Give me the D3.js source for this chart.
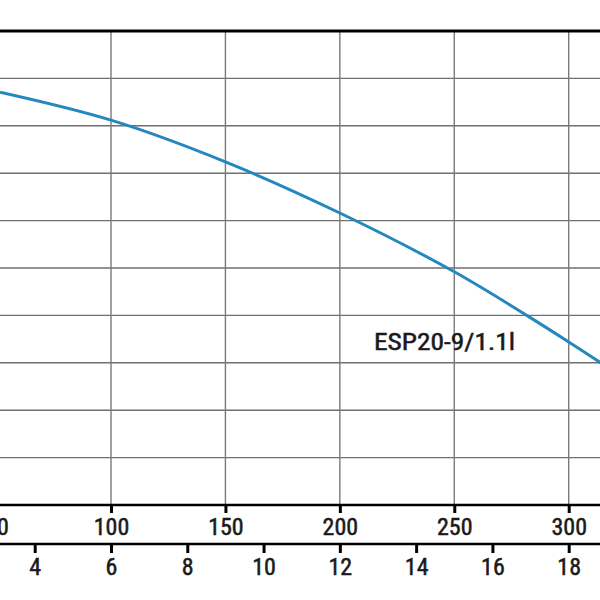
<!DOCTYPE html>
<html>
<head>
<meta charset="utf-8">
<script src="https://cdn.jsdelivr.net/npm/d3@7"></script>
<style>
  html, body { margin: 0; padding: 0; background: #fff; }
  svg { display: block; }
  text { font-family: "Liberation Sans Narrow", "Arial Narrow", "Roboto Condensed", "Liberation Sans", sans-serif; fill: #1a1a1a; stroke: #1a1a1a; stroke-width: 0.5px; }
</style>
</head>
<body>
<svg id="chart" width="600" height="600"></svg>
<script>
// Flow (l/min) vs head (m) for the pump curve
const flowLmin = [51.5, 100, 150, 200, 250, 282, 300, 314];
const headM    = [8.71, 8.12, 7.24, 6.16, 4.92, 3.99, 3.44, 3.00];
const flowTicksLmin = [50, 100, 150, 200, 250, 300];
const flowTicksM3h = [4, 6, 8, 10, 12, 14, 16, 18];
const headGrid = [1, 2, 3, 4, 5, 6, 7, 8, 9];
const curveLabel = "ESP20-9/1.1l";

const W = 600, H = 600;
const svg = d3.select("#chart");

const x = d3.scaleLinear().domain([100, 300]).range([111, 568.7]);
const xM3h = d3.scaleLinear().domain([100 * 0.06, 300 * 0.06]).range([111, 568.7]);
const y = d3.scaleLinear().domain([0, 10]).range([505, 31]);

// horizontal grid
svg.append("g").selectAll("line").data(headGrid).join("line")
  .attr("x1", 0).attr("x2", W)
  .attr("y1", d => y(d)).attr("y2", d => y(d))
  .attr("stroke", "#6f6f6f").attr("stroke-width", 1.4);

// vertical grid
svg.append("g").selectAll("line").data(flowTicksLmin).join("line")
  .attr("x1", d => x(d)).attr("x2", d => x(d))
  .attr("y1", y(10)).attr("y2", y(0))
  .attr("stroke", "#7a7a7a").attr("stroke-width", 1.4);

// top frame line
svg.append("line")
  .attr("x1", 0).attr("x2", W).attr("y1", y(10)).attr("y2", y(10))
  .attr("stroke", "#000").attr("stroke-width", 3);

// curve
svg.append("clipPath").attr("id", "clip").append("rect")
  .attr("x", 0).attr("y", y(10)).attr("width", W).attr("height", y(0) - y(10));
const pts = flowLmin.map((f, i) => [f, headM[i]]);
svg.append("path")
  .attr("clip-path", "url(#clip)")
  .datum(pts)
  .attr("fill", "none")
  .attr("stroke", "#2587c0")
  .attr("stroke-width", 3)
  .attr("d", d3.line().x(d => x(d[0])).y(d => y(d[1])).curve(d3.curveCatmullRom.alpha(0.5)));

// curve label
svg.append("text")
  .attr("x", 374).attr("y", 350)
  .attr("font-size", 24)
  .attr("textLength", 141).attr("lengthAdjust", "spacingAndGlyphs")
  .text(curveLabel);

// l/min axis
const axis1 = svg.append("g").attr("transform", `translate(0,${y(0)})`)
  .call(d3.axisBottom(x).tickValues(flowTicksLmin).tickSize(8).tickPadding(6).tickFormat(d3.format("d")));
axis1.select(".domain").remove();
axis1.selectAll(".tick line").attr("stroke", "#000").attr("stroke-width", 3);
axis1.selectAll(".tick text").attr("font-size", 24).attr("font-family", null).attr("fill", "#1a1a1a").attr("dy", null).attr("y", 30);
svg.append("line").attr("x1", 0).attr("x2", W).attr("y1", y(0)).attr("y2", y(0))
  .attr("stroke", "#000").attr("stroke-width", 2.6);

// m3/h axis
const axis2 = svg.append("g").attr("transform", "translate(0,544)")
  .call(d3.axisBottom(xM3h).tickValues(flowTicksM3h).tickSize(9).tickPadding(6).tickFormat(d3.format("d")));
axis2.select(".domain").remove();
axis2.selectAll(".tick line").attr("stroke", "#000").attr("stroke-width", 3);
axis2.selectAll(".tick text").attr("font-size", 24).attr("font-family", null).attr("fill", "#1a1a1a").attr("dy", null).attr("y", 31);
svg.append("line").attr("x1", 0).attr("x2", W).attr("y1", 544).attr("y2", 544)
  .attr("stroke", "#000").attr("stroke-width", 2.6);
</script>
</body>
</html>
